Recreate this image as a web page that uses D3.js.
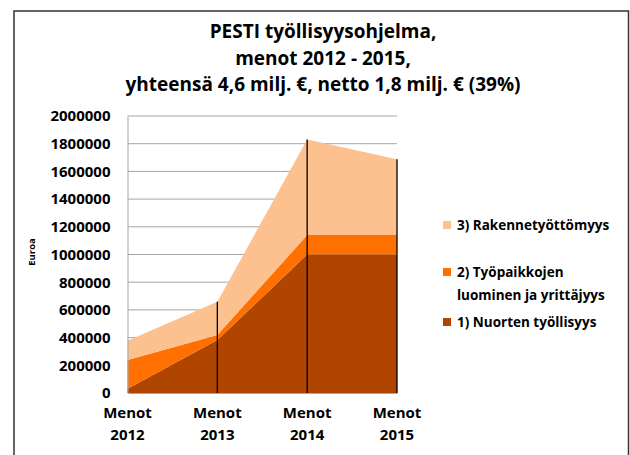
<!DOCTYPE html>
<html>
<head>
<meta charset="utf-8">
<script src="https://cdn.jsdelivr.net/npm/d3@7"></script>
<style>
  body { margin: 0; background: #fff; }
  text { font-family: "Open Sans", "Liberation Sans", sans-serif; }
</style>
</head>
<body>
<div id="chart"></div>
<script>
// data
const categories = ["Menot 2012", "Menot 2013", "Menot 2014", "Menot 2015"];
const nuorten = [30000, 382000, 1000000, 1000000];
const tyopaikat = [208000, 36000, 140000, 140000];
const rakenne = [140000, 240000, 690000, 547000];
const seriesNames = ["1) Nuorten työllisyys", "2) Työpaikkojen luominen ja yrittäjyys", "3) Rakennetyöttömyys"];
const yTicks = [0, 200000, 400000, 600000, 800000, 1000000, 1200000, 1400000, 1600000, 1800000, 2000000];
const titleLines = ["PESTI työllisyysohjelma,", "menot 2012 - 2015,", "yhteensä 4,6 milj. €, netto 1,8 milj. € (39%)"];

const colors = ["#B04500", "#FF7000", "#FDC08F"];

const W = 630, H = 455;
const margin = {top: 116, right: 233, bottom: 62, left: 127.5};

const svg = d3.select("#chart").append("svg")
    .attr("width", W)
    .attr("height", H);

// outer frame
svg.append("rect")
    .attr("x", 14).attr("y", 11)
    .attr("width", 614.5).attr("height", 460)
    .attr("fill", "none")
    .attr("stroke", "#333")
    .attr("stroke-width", 1.5);

// title
svg.append("g").selectAll("text")
    .data(titleLines)
    .join("text")
    .attr("x", 323)
    .attr("y", (d, i) => 38 + i * 26.5)
    .attr("text-anchor", "middle")
    .attr("font-size", "19px")
    .attr("font-weight", "bold")
    .attr("fill", "#000")
    .text(d => d);

const x = d3.scalePoint()
    .domain(categories)
    .range([margin.left, W - margin.right]);

const y = d3.scaleLinear()
    .domain([0, 2000000])
    .range([H - margin.bottom, margin.top]);

// gridlines
svg.append("g")
    .selectAll("line")
    .data(yTicks.slice(1))
    .join("line")
    .attr("x1", x.range()[0])
    .attr("x2", x.range()[1])
    .attr("y1", d => y(d))
    .attr("y2", d => y(d))
    .attr("stroke", "#a6a6a6")
    .attr("stroke-width", 1);

// stacked areas
const table = categories.map((c, i) => ({cat: c, s1: nuorten[i], s2: tyopaikat[i], s3: rakenne[i]}));
const stack = d3.stack().keys(["s1", "s2", "s3"]);
const layers = stack(table);

const area = d3.area()
    .x(d => x(d.data.cat))
    .y0(d => y(d[0]))
    .y1(d => y(d[1]));

svg.append("g")
    .selectAll("path")
    .data(layers)
    .join("path")
    .attr("fill", (d, i) => colors[i])
    .attr("d", area);

// drop lines
svg.append("g")
    .selectAll("line")
    .data(table.slice(1))
    .join("line")
    .attr("x1", d => x(d.cat))
    .attr("x2", d => x(d.cat))
    .attr("y1", y(0))
    .attr("y2", d => y(d.s1 + d.s2 + d.s3))
    .attr("stroke", "#000")
    .attr("stroke-width", 1.3);

// axes
function yAxis(g) {
    g.attr("transform", `translate(${margin.left},0)`)
        .call(d3.axisLeft(y).tickValues(yTicks).tickFormat(d => d).tickSize(0).tickPadding(17))
        .attr("font-size", "15px")
        .attr("font-weight", "bold")
        .attr("font-family", '"Open Sans", sans-serif');
    g.select(".domain").attr("stroke", "#a6a6a6");
    g.selectAll("text").attr("fill", "#000");
}
function xAxis(g) {
    g.attr("transform", `translate(0,${H - margin.bottom})`)
        .call(d3.axisBottom(x).tickSize(0).tickFormat(""))
        .select(".domain").attr("stroke", "#a6a6a6");
}
svg.append("g").call(xAxis);
svg.append("g").call(yAxis);

// x labels on two lines
const xl = svg.append("g").selectAll("text")
    .data(categories)
    .join("text")
    .attr("x", d => x(d))
    .attr("y", 418)
    .attr("text-anchor", "middle")
    .attr("font-size", "15px")
    .attr("font-weight", "bold")
    .attr("fill", "#000");
xl.each(function(d) {
    const parts = d.split(" ");
    d3.select(this).selectAll("tspan")
        .data(parts)
        .join("tspan")
        .attr("x", x(d))
        .attr("dy", (p, i) => i === 0 ? 0 : 22)
        .text(p => p);
});

// y axis title
svg.append("text")
    .attr("transform", "translate(35,252) rotate(-90)")
    .attr("text-anchor", "middle")
    .attr("font-size", "9.5px")
    .attr("font-weight", "bold")
    .attr("fill", "#000")
    .text("Euroa");

// legend
const legendItems = [
    {name: seriesNames[2], color: colors[2], y: 225},
    {name: seriesNames[1], color: colors[1], y: 272},
    {name: seriesNames[0], color: colors[0], y: 322}
];
const lg = svg.append("g").selectAll("g")
    .data(legendItems)
    .join("g");
lg.append("rect")
    .attr("x", 443)
    .attr("y", d => d.y - 4)
    .attr("width", 8).attr("height", 8)
    .attr("fill", d => d.color);
lg.append("text")
    .attr("x", 457)
    .attr("y", d => d.y + 5)
    .attr("font-size", "13.5px")
    .attr("font-weight", "bold")
    .attr("fill", "#000")
    .each(function(d) {
        const parts = d.name === seriesNames[1] ? ["2) Työpaikkojen", "luominen ja yrittäjyys"] : [d.name];
        d3.select(this).selectAll("tspan")
            .data(parts)
            .join("tspan")
            .attr("x", 457)
            .attr("dy", (p, i) => i === 0 ? 0 : 23)
            .text(p => p);
    });
</script>
</body>
</html>
